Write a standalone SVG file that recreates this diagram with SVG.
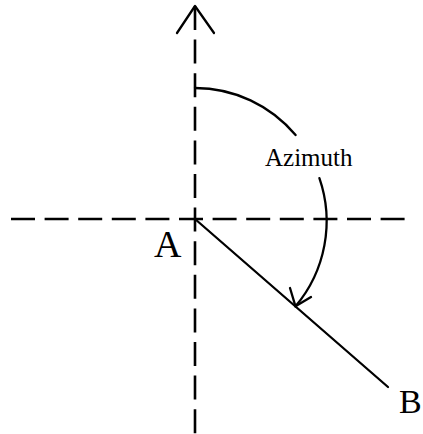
<svg xmlns="http://www.w3.org/2000/svg" width="423" height="434" viewBox="0 0 423 434">
<style>
.axis{fill:none;stroke:#000;stroke-width:2.6;stroke-dasharray:24 9.6}
.solid{fill:none;stroke:#000;stroke-width:2.3;stroke-linecap:round;stroke-linejoin:round}
.lbl{font-family:"Liberation Serif","Times New Roman",serif;fill:#000}
</style>
<rect width="423" height="434" fill="#fff"/>
<g id="connectors">
<line class="axis" x1="195" y1="6" x2="195" y2="434"/>
<line class="axis" x1="11" y1="219" x2="410" y2="219"/>
<polyline class="solid" points="177,33 195,6 214,33"/>
<line class="solid" x1="195" y1="219" x2="388" y2="387"/>
<path class="solid" d="M195,88 A131,131 0 0 1 295.6,135.1"/>
<path class="solid" d="M319.4,178.1 A132,132 0 0 1 295.5,306.3"/>
<polyline class="solid" points="290,288 295.5,306.3 311,297"/>
</g>
<g id="label-azimuth"><text class="lbl" x="265" y="166" font-size="25">Azimuth</text></g>
<g id="node-A"><text class="lbl" x="154" y="257" font-size="38">A</text></g>
<g id="node-B"><text class="lbl" x="399" y="413" font-size="34">B</text></g>
</svg>
